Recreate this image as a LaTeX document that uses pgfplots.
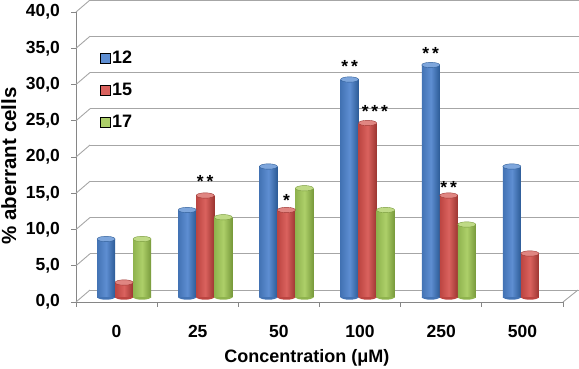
\documentclass[border=0pt]{standalone}
\usepackage{pgfplots}
\pgfplotsset{compat=1.18}
\usepackage{fontspec}
\setmainfont{Liberation Sans}
\definecolor{gridgray}{HTML}{A6A6A6}
\definecolor{axgray}{HTML}{868686}
\definecolor{bL}{HTML}{4373B4}
\definecolor{bM}{HTML}{5E8ED2}
\definecolor{bR}{HTML}{2C5B96}
\definecolor{bT}{HTML}{7EA6DC}
\definecolor{rL}{HTML}{BC4541}
\definecolor{rM}{HTML}{DA625E}
\definecolor{rR}{HTML}{9C3531}
\definecolor{rT}{HTML}{E08682}
\definecolor{gL}{HTML}{8FB34E}
\definecolor{gM}{HTML}{ADCF69}
\definecolor{gR}{HTML}{789A3B}
\definecolor{gT}{HTML}{BFDA86}
\newcommand{\lblfont}{\bfseries\fontsize{17.5}{20}\selectfont}
\pgfdeclareplotmark{cylbot}{%
  \pgfpathmoveto{\pgfqpoint{-9pt}{0pt}}%
  \pgfpatharc{180}{360}{9pt and 2.7pt}%
  \pgfpathclose\pgfusepathqfill}
% one cylinder: x, value, bar shift, colour prefix
\newcommand{\cyl}[4]{%
\addplot[ybar, bar width=18pt, bar shift=#3, draw=none, left color=#4L, right color=#4R, middle color=#4M, forget plot] coordinates {(#1,#2)};
\addplot[only marks, mark=cylbot, mark options={xshift=#3, fill=#4L, draw=none}, forget plot] coordinates {(#1,0)};
\addplot[only marks, mark=*, mark size=9pt, mark options={xshift=#3, yscale=0.3, fill=#4T, draw=#4R, line width=0.4pt}, forget plot] coordinates {(#1,#2)};
}
\begin{document}
\begin{tikzpicture}[font=\lblfont]
\useasboundingbox (0,0) rectangle (579pt,368pt);
% back wall grid
\begin{axis}[at={(90pt,78pt)}, anchor=south west, scale only axis,
  width=489pt, height=290pt, xmin=0, xmax=1, ymin=0, ymax=40,
  ytick={0,5,...,40}, xtick=\empty, yticklabels={},
  ymajorgrids, major grid style={gridgray, line width=0.9pt},
  axis line style={draw=none}, tick style={draw=none}]
\end{axis}
% front axis
\begin{axis}[at={(76pt,66pt)}, anchor=south west, scale only axis,
  width=487pt, height=290pt, xmin=0, xmax=6, ymin=0, ymax=40,
  axis x line*=bottom, axis y line*=left,
  axis line style={axgray, line width=0.8pt, -},
  xtick={0,...,6}, xticklabels={},
  ytick={0,5,...,40}, tick align=outside, major tick length=4.5pt,
  tick style={axgray, line width=0.8pt},
  /pgf/number format/assume math mode=true,
  yticklabel style={font=\lblfont, xshift=-8pt, /pgf/number format/.cd, fixed, fixed zerofill, precision=1, use comma},
  xlabel={Concentration (μM)}, ylabel={\% aberrant cells},
  xlabel style={font=\bfseries\fontsize{18}{20}\selectfont, at={(axis description cs:0.474,-0.193)}, anchor=center},
  ylabel style={font=\bfseries\fontsize{20.5}{22}\selectfont, at={(axis description cs:-0.138,0.469)}, anchor=center},
  clip=false]
\pgfplotsinvokeforeach{0,5,10,15,20,25,30,35,40}{\draw[gridgray, line width=0.9pt] (axis cs:0,#1) -- ++(14pt,12pt);}
\draw[gridgray, line width=0.9pt] (axis cs:6,0) -- ++(15pt,12pt);
\end{axis}
% bars
\begin{axis}[at={(83.5pt,71pt)}, anchor=south west, scale only axis,
  width=487pt, height=290pt, xmin=-0.5, xmax=5.5, ymin=0, ymax=40,
  axis line style={draw=none}, ytick=\empty,
  xtick={0,...,5}, xticklabels={0,25,50,100,250,500},
  xtick style={draw=none},
  xticklabel style={font=\lblfont, anchor=base, yshift=-40pt, xshift=-7.5pt},
  clip=false,
  legend style={draw=none, fill=none, font=\bfseries\fontsize{18}{20}\selectfont, at={(axis description cs:0.0267,0.862)}, anchor=north west, row sep=14pt},
  legend cell align=left]
\addlegendimage{legend image code/.code={\path[fill=bM] (0pt,-5pt) rectangle (10pt,5pt);}}
\addlegendimage{legend image code/.code={\path[fill=rM] (0pt,-5pt) rectangle (10pt,5pt);}}
\addlegendimage{legend image code/.code={\path[fill=gM] (0pt,-5pt) rectangle (10pt,5pt);}}
\legend{12,15,17}
% series 12 (blue)
\cyl{0}{8}{-18pt}{b}
\cyl{1}{12}{-18pt}{b}
\cyl{2}{18}{-18pt}{b}
\cyl{3}{30}{-18pt}{b}
\cyl{4}{32}{-18pt}{b}
\cyl{5}{18}{-18pt}{b}
% series 15 (red)
\cyl{0}{2}{0pt}{r}
\cyl{1}{14}{0pt}{r}
\cyl{2}{12}{0pt}{r}
\cyl{3}{24}{0pt}{r}
\cyl{4}{14}{0pt}{r}
\cyl{5}{6}{0pt}{r}
% series 17 (green)
\cyl{0}{8}{18pt}{g}
\cyl{1}{11}{18pt}{g}
\cyl{2}{15}{18pt}{g}
\cyl{3}{12}{18pt}{g}
\cyl{4}{10}{18pt}{g}
\node[anchor=base, yshift=-10pt] at (axis cs:1,16.55) {*\,*};
\node[anchor=base, yshift=-10pt] at (axis cs:2,13.9) {*};
\node[anchor=base, yshift=-10pt] at (axis cs:2.7782,32.4) {*\,*};
\node[anchor=base, yshift=-10pt] at (axis cs:3.09,26.1) {*\,*\,*};
\node[anchor=base, yshift=-10pt] at (axis cs:3.7782,34.1) {*\,*};
\node[anchor=base, yshift=-10pt] at (axis cs:4,15.6) {*\,*};
\end{axis}
\end{tikzpicture}
\end{document}
